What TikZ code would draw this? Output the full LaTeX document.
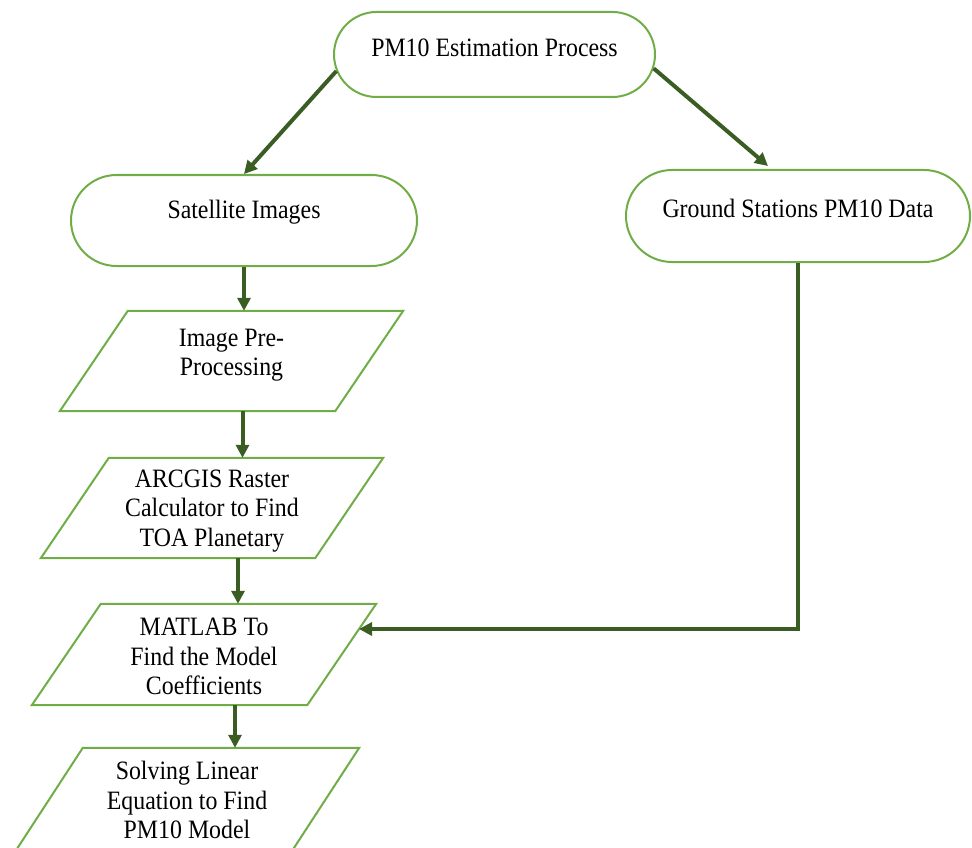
\documentclass[tikz,border=0pt]{standalone}
\usepackage{fontspec}
\setmainfont{Liberation Serif}[FakeStretch=0.9]
\usetikzlibrary{shapes.misc,arrows.meta,calc}
\definecolor{boxgreen}{HTML}{70AD47}
\definecolor{arrgreen}{HTML}{3A5D23}
\begin{document}
\begin{tikzpicture}[x=1pt,y=-1pt,
  stad/.style={rounded rectangle, draw=boxgreen, line width=2pt, inner sep=0pt},
  pbox/.style={rectangle, inner sep=0pt},
  lbl/.style={inner sep=0pt, align=center, font=\fontsize{26.5}{29.5}\selectfont},
  pgl/.style={draw=boxgreen, line width=2pt, line join=miter},
  arr/.style={draw=arrgreen, line width=4pt, -{Triangle[length=13pt,width=13pt]}}]
\useasboundingbox (0,0) rectangle (972,848);

% terminals
\node[stad, minimum width=321pt, minimum height=85pt] (top) at (494.5,54.5) {};
\node[lbl] (toptxt) at ([yshift=7pt]top.center) {PM10 Estimation Process};
\node[stad, minimum width=346pt, minimum height=91pt] (sat) at (244,220.5) {};
\node[lbl] (sattxt) at ([yshift=8pt]sat.center) {Satellite Images};
\node[stad, minimum width=344pt, minimum height=92pt] (gnd) at (798,216) {};
\node[lbl] (gndtxt) at ([yshift=8pt]gnd.center) {Ground Stations PM10 Data};

% parallelogram frames
\node[pbox, minimum width=343pt, minimum height=100pt] (p1) at (231.5,361) {};
\node[pbox, minimum width=342pt, minimum height=100pt] (p2) at (212,508) {};
\node[pbox, minimum width=344pt, minimum height=101pt] (p3) at (204,654.5) {};
\node[pbox, minimum width=344pt, minimum height=104pt] (p4) at (187,800) {};

\draw[pgl] ([xshift=68pt]p1.north west) -- (p1.north east) -- ([xshift=-68pt]p1.south east) -- (p1.south west) -- cycle;
\draw[pgl] ([xshift=68pt]p2.north west) -- (p2.north east) -- ([xshift=-68pt]p2.south east) -- (p2.south west) -- cycle;
\draw[pgl] ([xshift=69pt]p3.north west) -- (p3.north east) -- ([xshift=-69pt]p3.south east) -- (p3.south west) -- cycle;
\draw[pgl] ([xshift=68pt]p4.north west) -- (p4.north east) -- ([xshift=-68pt]p4.south east) -- (p4.south west) -- cycle;

\node[lbl] (p1txt) at ([yshift=6pt]p1.center) {Image Pre-\\Processing};
\node[lbl] (p2txt) at ([yshift=-3pt]p2.center) {ARCGIS Raster\\Calculator to Find\\TOA Planetary};
\node[lbl] (p3txt) at ([yshift=-2pt]p3.center) {MATLAB To\\Find the Model\\Coefficients};
\node[lbl] (p4txt) at ([yshift=0pt]p4.center) {Solving Linear\\Equation to Find\\PM10 Model};

\coordinate (fb) at (359,629);

% connectors
\draw[arr] (top.186) -- (sat.north);
\draw[arr] (top.355) -- ([xshift=-30pt,yshift=3pt]gnd.north);
\draw[arr] (sat.south) -- (sat.south |- p1.north);
\draw[arr] ([xshift=11pt]p1.south) -- ([xshift=11pt]p1.south |- p2.north);
\draw[arr] ([xshift=26pt]p2.south) -- ([xshift=26pt]p2.south |- p3.north);
\draw[arr] ([xshift=31pt]p3.south) -- ([xshift=31pt]p3.south |- p4.north);
\draw[arr] (gnd.south) |- (fb);
\end{tikzpicture}
\end{document}
